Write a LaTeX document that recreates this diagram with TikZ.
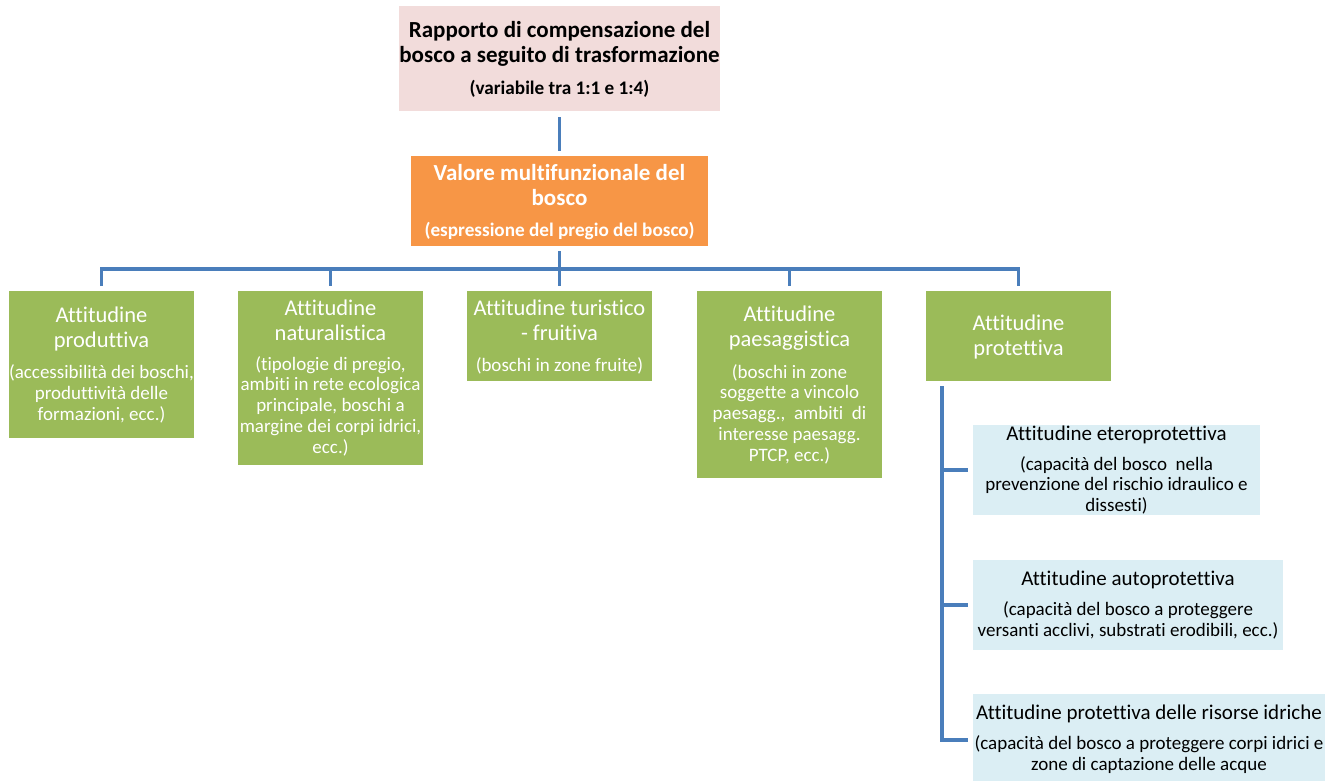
\documentclass[tikz,border=0pt]{standalone}
\usepackage{fontspec}
\setmainfont{Carlito}[Ligatures={NoCommon}]
\definecolor{pinkbox}{HTML}{F2DCDB}
\definecolor{orangebox}{HTML}{F79646}
\definecolor{greenbox}{HTML}{9BBB59}
\definecolor{bluebox}{HTML}{DBEEF4}
\definecolor{connblue}{HTML}{4A7EBB}
\begin{document}
\begin{tikzpicture}[x=1pt,y=-1pt,
  box/.style={anchor=north west,inner sep=0pt,outer sep=0pt},
  pinkb/.style={box,fill=pinkbox},
  orangeb/.style={box,fill=orangebox},
  greenb/.style={box,fill=greenbox,minimum width=185pt},
  blueb/.style={box,fill=bluebox},
  txt/.style={anchor=base,inner sep=0pt,align=center},
  ttitle/.style={txt,font=\fontsize{23}{25.3}\selectfont\bfseries},
  tbsub/.style={txt,font=\fontsize{19.2}{21}\selectfont\bfseries},
  thead/.style={txt,text=white,font=\fontsize{22.5}{24.6}\selectfont},
  tobig/.style={txt,text=white,font=\fontsize{23}{25}\selectfont\bfseries},
  tsub/.style={txt,text=white,font=\fontsize{19}{20.7}\selectfont},
  tbhead/.style={txt,font=\fontsize{21}{23}\selectfont},
  tbtxt/.style={txt,font=\fontsize{19}{20.8}\selectfont},
  conn/.style={draw=connblue,line width=3.5pt}
]
\useasboundingbox (0,0) rectangle (1340,780);
\fill[white] (0,0) rectangle (1340,780);

% boxes
\node[pinkb,minimum width=321pt,minimum height=105pt] (top) at (399,6) {};
\node[orangeb,minimum width=297pt,minimum height=90pt] (val) at (411,156) {};
\node[greenb,minimum height=147pt] (prod) at (9,291) {};
\node[greenb,minimum height=174pt] (nat) at (238,291) {};
\node[greenb,minimum height=90pt] (tur) at (467,291) {};
\node[greenb,minimum height=187pt] (pae) at (697,291) {};
\node[greenb,minimum height=90pt] (prot) at (926,291) {};
\node[blueb,minimum width=287pt,minimum height=90pt] (eter) at (973,425) {};
\node[blueb,minimum width=310pt,minimum height=90pt] (auto) at (973,560) {};
\node[blueb,minimum width=352pt,minimum height=92pt] (idr) at (973,694) {};

% texts (base = baseline of the last line)
\node[ttitle] (topT) at (559.5,62.7) {Rapporto di compensazione del\\bosco a seguito di trasformazione};
\node[tbsub] (topS) at (559.5,94.3) {(variabile tra 1:1 e 1:4)};
\node[tobig] (valT) at (559.5,205) {Valore multifunzionale del\\bosco};
\node[tbsub,text=white] (valS) at (559.5,236.7) {(espressione del pregio del bosco)};

\node[thead] (prodT) at (101.5,347) {Attitudine\\produttiva};
\node[tsub] (prodS) at (101.5,420) {(accessibilità dei boschi,\\produttività delle\\formazioni, ecc.)};
\node[thead] (natT) at (330.5,340) {Attitudine\\naturalistica};
\node[tsub] (natS) at (330.5,453) {(tipologie di pregio,\\ambiti in rete ecologica\\principale, boschi a\\margine dei corpi idrici,\\ecc.)};
\node[thead] (turT) at (559.5,340) {Attitudine turistico\\- fruitiva};
\node[tsub] (turS) at (559.5,371.7) {(boschi in zone fruite)};
\node[thead] (paeT) at (789.5,346) {Attitudine\\paesaggistica};
\node[tsub] (paeS) at (789.5,461) {(boschi in zone\\soggette a vincolo\\paesagg.,~ ambiti~ di\\interesse paesagg.\\PTCP, ecc.)};
\node[thead] (protT) at (1018.5,355) {Attitudine\\protettiva};

\node[tbhead] (eterT) at (1116.5,440) {Attitudine eteroprotettiva};
\node[tbtxt] (eterS) at (1116.5,511.7) {(capacità del bosco~ nella\\prevenzione del rischio idraulico e\\dissesti)};
\node[tbhead] (autoT) at (1128,585) {Attitudine autoprotettiva};
\node[tbtxt] (autoS) at (1128,636.7) {(capacità del bosco a proteggere\\versanti acclivi, substrati erodibili, ecc.)};
\node[tbhead] (idrT) at (1149,719) {Attitudine protettiva delle risorse idriche};
\node[tbtxt] (idrS) at (1149,770.7) {(capacità del bosco a proteggere corpi idrici e\\zone di captazione delle acque};

% connectors
\coordinate (bar) at (0,269);
\coordinate (pv) at (942,0);
\draw[conn,shorten <=6pt,shorten >=5pt] (top.south) -- (val.north);
\draw[conn,shorten <=5pt] (val.south) -- (val.south |- bar);
\draw[conn,shorten <=5pt,shorten >=5pt] (prod.north) -- (prod.north |- bar) -- (prot.north |- bar) -- (prot.north);
\draw[conn,shorten >=5pt] (nat.north |- bar) -- (nat.north);
\draw[conn,shorten >=5pt] (tur.north |- bar) -- (tur.north);
\draw[conn,shorten >=5pt] (pae.north |- bar) -- (pae.north);
\draw[conn,shorten <=5pt,shorten >=5pt] (prot.south -| pv) -- (pv |- idr.west) -- (idr.west);
\draw[conn,shorten >=5pt] (pv |- eter.west) -- (eter.west);
\draw[conn,shorten >=5pt] (pv |- auto.west) -- (auto.west);
\end{tikzpicture}
\end{document}
